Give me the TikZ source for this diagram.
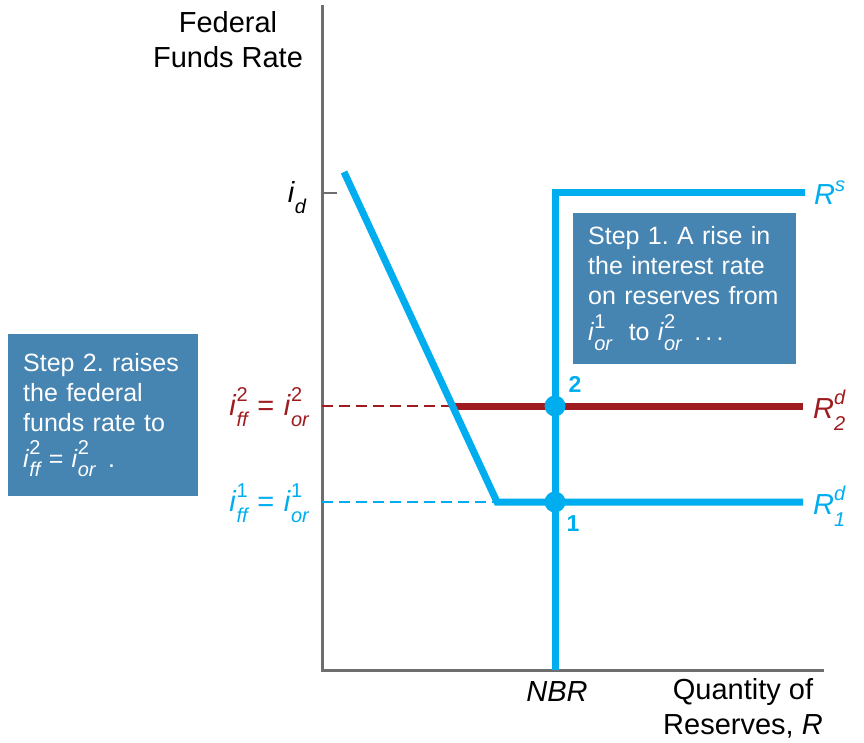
\documentclass[tikz,border=0pt]{standalone}
\usepackage{fontspec}
\setmainfont{Liberation Sans}
\frenchspacing
\definecolor{rblue}{RGB}{0,174,239}
\definecolor{rred}{RGB}{158,27,32}
\definecolor{boxblue}{RGB}{70,132,178}
\definecolor{axgray}{RGB}{110,110,110}
\newcommand\scrsz{\fontsize{20}{20}\selectfont}
\newcommand\isub[3]{\textit{#1}\makebox[0pt][l]{\raisebox{0.5em}{\scrsz #2}}\raisebox{-0.38em}{\scrsz\itshape #3}}
\begin{document}
\begin{tikzpicture}[x=1pt,y=-1pt,
  axis/.style={line width=3pt,color=axgray},
  curve/.style={line width=7pt,color=rblue},
  redcurve/.style={line width=7pt,color=rred},
  guide/.style={line width=1.6pt,dash pattern=on 11pt off 6pt},
  dot/.style={circle,fill=rblue,inner sep=0pt,minimum size=21pt},
  lbl/.style={font=\fontsize{29}{35}\selectfont,inner sep=0pt},
  stepbox/.style={fill=boxblue,text=white,align=left,font=\fontsize{25}{30}\selectfont,inner xsep=15pt,inner ysep=8pt,anchor=north west}]
\useasboundingbox (0,0) rectangle (864,743);
% axes
\coordinate (O) at (322,670);
\coordinate (ytop) at (322,5);
\coordinate (xend) at (824,670);
\draw[axis] (ytop) -- (O) -- (xend);
\coordinate (idt) at (337,193);
\coordinate (idb) at (322,193);
\draw[line width=2pt,color=axgray] (idb) -- (idt);
% labels on axes
\node[lbl,align=center] (ylab) at (228,40) {Federal\\Funds Rate};
\node[lbl] (id) at (297,198) {\isub{i}{}{d}};
\node[lbl,font=\fontsize{29}{35}\selectfont\itshape] (nbr) at (557,692) {NBR};
\node[lbl,align=center] (xlab) at (743,708) {Quantity of\\Reserves, \textit{R}};
% coordinates for curves
\coordinate (dtop) at (344,172);
\coordinate (dkink) at (497,502);
\coordinate (r1end) at (803,502);
\coordinate (r2start) at (452.5,406);
\coordinate (r2end) at (803,406);
\coordinate (sbot) at (555,670);
\coordinate (stop) at (555,193);
\coordinate (send) at (805,193);
\coordinate (l1) at (322,502);
\coordinate (l2) at (322,406);
% dashed guides
\draw[guide,color=rblue] (l1) -- (dkink);
\draw[guide,color=rred] (l2) -- (r2start);
% curves
\draw[redcurve] (r2start) -- (r2end);
\draw[curve] (dtop) -- (dkink) -- (r1end);
\draw[curve] (sbot) -- (stop) -- (send);
\node[dot] (p2) at (555,406) {};
\node[dot] (p1) at (555,502) {};
\node[lbl,font=\fontsize{23}{26}\selectfont\bfseries,text=rblue] (n2) at (575,384) {2};
\node[lbl,font=\fontsize{23}{26}\selectfont\bfseries,text=rblue] (n1) at (573,524) {1};
% curve labels
\node[lbl,text=rblue,anchor=west] (rs) at (814,193) {\textit{R}\raisebox{0.45em}{\scrsz\itshape s}};
\node[lbl,text=rred,anchor=west] (r2d) at (813,410) {\isub{R}{\itshape d}{2}};
\node[lbl,text=rblue,anchor=west] (r1d) at (813,506) {\isub{R}{\itshape d}{1}};
% left labels
\node[lbl,text=rred,anchor=east] (iff2) at (309,407) {\isub{i}{2}{ff}\,\,=\,\,\isub{i}{2}{or}};
\node[lbl,text=rblue,anchor=east] (iff1) at (309,503) {\isub{i}{1}{ff}\,\,=\,\,\isub{i}{1}{or}};
% boxes
\node[stepbox,text width=193pt,minimum height=151pt] (s1) at (573,213) {Step 1. A rise in\\the interest rate\\on reserves from\\[6pt]\isub{i}{1}{or}\,\,\,\,to \isub{i}{2}{or}\,\,\,.\,.\,.};
\node[stepbox,text width=160pt,minimum height=162pt] (s2) at (8,334) {Step 2. raises\\the federal\\funds rate to\\[6pt]\isub{i}{2}{ff}\,\,=\,\,\isub{i}{2}{or}\,\,\,.};
\end{tikzpicture}
\end{document}
